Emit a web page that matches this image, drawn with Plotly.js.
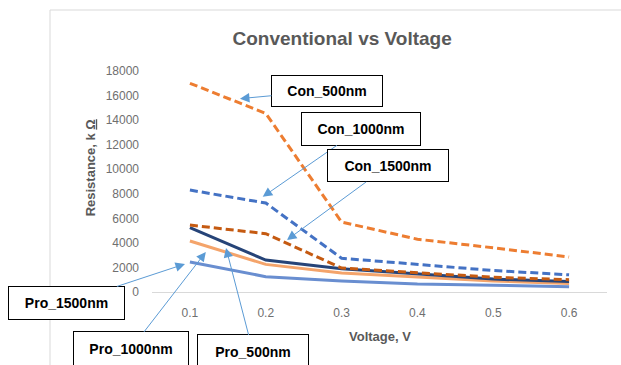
<!DOCTYPE html>
<html>
<head>
<meta charset="utf-8">
<script src="https://cdn.plot.ly/plotly-3.0.1.min.js"></script>
<style>html,body{margin:0;padding:0;background:#fff;}#chart{width:621px;height:365px;}</style>
</head>
<body>
<div id="chart"></div>
<script>
// ---- data ----
const voltage = [0.1, 0.2, 0.3, 0.4, 0.5, 0.6];
const voltageLabels = ["0.1", "0.2", "0.3", "0.4", "0.5", "0.6"];
const con500 = [17000, 14550, 5700, 4300, 3600, 2850];
const con1000 = [8300, 7250, 2750, 2250, 1750, 1400];
const con1500 = [5450, 4750, 1950, 1550, 1200, 1000];
const pro500 = [4150, 2250, 1550, 1200, 900, 700];
const pro1000 = [5250, 2600, 1900, 1450, 1050, 850];
const pro1500 = [2450, 1250, 900, 650, 550, 420];
const yTicks = [0, 2000, 4000, 6000, 8000, 10000, 12000, 14000, 16000, 18000];
const yTickLabels = ["0", "2000", "4000", "6000", "8000", "10000", "12000", "14000", "16000", "18000"];
const seriesNames = ["Con_500nm", "Con_1000nm", "Con_1500nm", "Pro_500nm", "Pro_1000nm", "Pro_1500nm"];

const font = "'Liberation Sans', Arial, sans-serif";
const gray = "#595959";
const tickGray = "#6f6f6f";

function tr(name, y, color, dash) {
  return {
    x: voltage, y: y, name: name, type: "scatter", mode: "lines",
    line: {color: color, width: 3, dash: dash},
    hoverinfo: "skip"
  };
}
const traces = [
  tr(seriesNames[5], pro1500, "#698ED0", "solid"),
  tr(seriesNames[3], pro500, "#F4A46B", "solid"),
  tr(seriesNames[4], pro1000, "#264478", "solid"),
  tr(seriesNames[2], con1500, "#C55A11", "8px,4px"),
  tr(seriesNames[1], con1000, "#4472C4", "8px,4px"),
  tr(seriesNames[0], con500, "#ED7D31", "8px,4px")
];

function box(text, x, y, ax, ay, w, h) {
  return {
    text: "<b>" + text + "</b>", x: x, y: y, xref: "x", yref: "y",
    ax: ax, ay: ay, axref: "pixel", ayref: "pixel",
    showarrow: true, arrowhead: 2, arrowsize: 1.9, arrowwidth: 1, arrowcolor: "#5B9BD5",
    width: w, height: h, borderpad: 0, borderwidth: 1, bordercolor: "#000",
    bgcolor: "#fff", font: {family: font, size: 14, color: "#000"}
  };
}

const annotations = [
  box(seriesNames[0], 0.166, 15750, 87, -8, 110, 30),
  box(seriesNames[1], 0.196, 7750, 98, -68, 118, 32),
  box(seriesNames[2], 0.228, 4240, 101, -74, 120, 31),
  box(seriesNames[5], 0.0935, 2285, -118, 39, 115, 32),
  box(seriesNames[4], 0.121, 3264, -75, 97, 114, 33),
  box(seriesNames[3], 0.1476, 3590, 27, 104, 110, 33),
  {text: "<b>Voltage, V</b>", xref: "paper", yref: "paper", x: 0.5, y: -0.2, showarrow: false,
   xanchor: "center", yanchor: "middle", font: {family: font, size: 13, color: gray}},
  {text: "<b>Resistance, k <u>Ω</u></b>", xref: "paper", yref: "paper", x: -0.136, y: 0.56, showarrow: false,
   textangle: -90, xanchor: "center", yanchor: "middle", font: {family: font, size: 13, color: gray}}
];

const layout = {
  width: 621, height: 365,
  margin: {l: 152, r: 14, t: 71, b: 73, pad: 0},
  paper_bgcolor: "#fff", plot_bgcolor: "#fff",
  showlegend: false,
  title: {text: "<b>Conventional vs Voltage</b>", x: 0.551, xref: "container", xanchor: "center",
          y: 1 - 38 / 365, yref: "container", yanchor: "middle",
          font: {family: font, size: 19, color: gray}},
  xaxis: {range: [0.05, 0.65], tickvals: voltage, ticktext: voltageLabels, showgrid: false, zeroline: false,
          showline: true, linecolor: "#D9D9D9", linewidth: 1, ticks: "", ticklabelstandoff: 10,
          tickfont: {family: font, size: 12, color: tickGray}, fixedrange: true},
  yaxis: {range: [0, 18000], tickvals: yTicks, ticktext: yTickLabels, showgrid: false, zeroline: false, showline: false,
          ticks: "", ticklabelstandoff: 12, tickfont: {family: font, size: 12, color: tickGray}, fixedrange: true},
  annotations: annotations,
  shapes: [{type: "rect", xref: "paper", yref: "paper",
            x0: (50 - 152) / 455, x1: 1.2, y0: -0.5, y1: (292 - 10) / 221,
            line: {color: "#D9D9D9", width: 1}, fillcolor: "rgba(0,0,0,0)", layer: "below"}]
};

Plotly.newPlot("chart", traces, layout, {displayModeBar: false, staticPlot: true});
</script>
</body>
</html>
